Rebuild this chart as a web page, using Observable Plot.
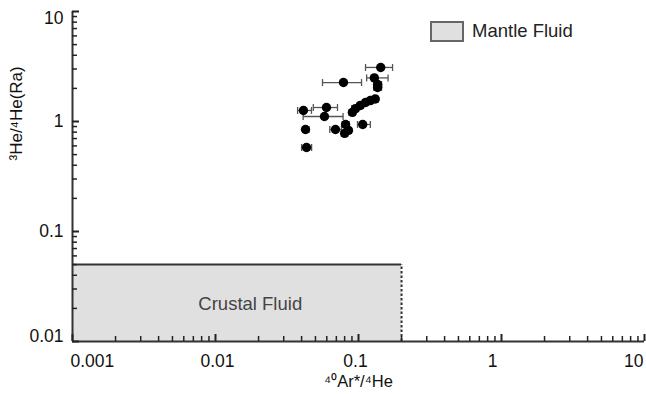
<!DOCTYPE html>
<html>
<head>
<meta charset="utf-8">
<script src="https://cdn.jsdelivr.net/npm/d3@7"></script>
<script src="https://cdn.jsdelivr.net/npm/@observablehq/plot@0.6"></script>
<style>
  body { margin: 0; background: #fff; font-family: "Liberation Sans", Arial, Helvetica, sans-serif; }
  #wrap { position: relative; width: 646px; height: 394px; }
  #legend { position: absolute; left: 430px; top: 20px; display: flex; align-items: center; font-size: 18.5px; color: #222; z-index: 2; }
  #legend .sw { width: 30px; height: 17px; background: #e0e0e0; border: 2px solid #666; margin-right: 8px; }
</style>
</head>
<body>
<div id="wrap"><div id="legend"><div class="sw"></div><span>Mantle Fluid</span></div></div>
<script>
// Samples: 40Ar*/4He (x), 3He/4He in Ra (y), with x error range
const ratioAr = [0.143, 0.0785, 0.129, 0.136, 0.136, 0.0906, 0.0953, 0.103, 0.112, 0.121, 0.131, 0.0412, 0.0597, 0.0578, 0.0426, 0.069, 0.0812, 0.0851, 0.080, 0.107, 0.0433];
const ratioHe = [3.10, 2.26, 2.49, 2.17, 2.04, 1.21, 1.31, 1.40, 1.49, 1.55, 1.60, 1.26, 1.34, 1.11, 0.846, 0.846, 0.94, 0.83, 0.78, 0.94, 0.58];
const errLo = [0.112, 0.056, 0.114, 0.128, 0.128, 0.086, 0.090, 0.098, 0.107, 0.116, 0.125, 0.0375, 0.0483, 0.041, 0.041, 0.063, 0.077, 0.081, 0.076, 0.0984, 0.040];
const errHi = [0.173, 0.105, 0.161, 0.145, 0.145, 0.095, 0.100, 0.108, 0.117, 0.126, 0.137, 0.0469, 0.0713, 0.078, 0.045, 0.076, 0.086, 0.089, 0.084, 0.121, 0.047];

// Crustal fluid field
const crustal = [{x1: 0.001, x2: 0.2, y1: 0.01, y2: 0.05, label: "Crustal Fluid", lx: 0.0175, ly: 0.022}];

// Tick labels
const xMajor = [0.001, 0.01, 0.1, 1, 10];
const yMajor = [0.01, 0.1, 1, 10];
const xLabels = ["0.001", "0.01", "0.1", "1", "10"];
const yLabels = ["0.01", "0.1", "1", "10"];

const samples = ratioAr.map((x, i) => ({x, y: ratioHe[i], lo: errLo[i], hi: errHi[i]}));
const minor = (majors) => majors.slice(0, -1).flatMap(m => [2,3,4,5,6,7,8,9].map(k => +(m * k).toPrecision(3)));
const xMinor = minor(xMajor), yMinor = minor(yMajor);
const xMin = xMajor[0], yMin = yMajor[0];

const capSymbol = {draw(ctx, size) { const r = Math.sqrt(size / Math.PI); ctx.moveTo(0, -r); ctx.lineTo(0, r); }};
const ink = "#222";
const fontCss = "Liberation Sans, Arial, Helvetica, sans-serif";

// label placement styling (per label)
const xLabelStyle = [
  {dx: -2, textAnchor: "start"}, {dx: 2, textAnchor: "middle"}, {dx: -3, textAnchor: "middle"},
  {dx: -9, textAnchor: "middle"}, {dx: -1, textAnchor: "end"}
];
const yLabelStyle = [{lineAnchor: "bottom"}, {lineAnchor: "middle"}, {lineAnchor: "middle"}, {lineAnchor: "top"}];

const chart = Plot.plot({
  width: 646, height: 394,
  marginLeft: 72, marginRight: 2, marginTop: 11, marginBottom: 53,
  style: {fontFamily: fontCss, background: "transparent", overflow: "visible"},
  x: {type: "log", domain: [0.001, 10], axis: null},
  y: {type: "log", domain: [0.01, 10], axis: null},
  marks: [
    Plot.rect(crustal, {x1: "x1", x2: "x2", y1: "y1", y2: "y2", fill: "#e0e0e0"}),
    Plot.ruleY(crustal, {y: "y2", x1: "x1", x2: "x2", stroke: "#333", strokeWidth: 2}),
    Plot.ruleX(crustal, {x: "x2", y1: "y1", y2: "y2", stroke: "#333", strokeWidth: 2, strokeDasharray: "2.5,2"}),
    Plot.text(crustal, {x: "lx", y: "ly", text: "label", fontSize: 18.5, fill: "#444"}),
    // spines
    Plot.ruleX([xMin], {stroke: "#333", strokeWidth: 2}),
    Plot.ruleY([yMin], {stroke: "#333", strokeWidth: 2}),
    // axis ticks (inward), drawn from the axis marks of Plot
    Plot.axisX(xMinor, {anchor: "bottom", tickSize: 5, dy: -5, tickFormat: () => "", stroke: ink, strokeWidth: 1.5, strokeOpacity: 1}),
    Plot.axisX(xMajor, {anchor: "bottom", tickSize: 7, dy: -7, tickFormat: () => "", stroke: ink, strokeWidth: 2, strokeOpacity: 1}),
    Plot.axisY(yMinor, {anchor: "left", tickSize: 5, dx: 5, tickFormat: () => "", stroke: ink, strokeWidth: 1.5, strokeOpacity: 1}),
    Plot.axisY(yMajor, {anchor: "left", tickSize: 7, dx: 7, tickFormat: () => "", stroke: ink, strokeWidth: 2, strokeOpacity: 1}),
    // tick labels
    ...xMajor.map((v, i) => Plot.text([v], {x: d => d, text: [xLabels[i]], frameAnchor: "bottom", dy: 25, fontSize: 17.5, fill: "#111", ...xLabelStyle[i]})),
    ...yMajor.map((v, i) => Plot.text([v], {y: d => d, text: [yLabels[i]], frameAnchor: "left", dx: -9, textAnchor: "end", fontSize: 17.5, fill: "#111", ...yLabelStyle[i]})),
    // axis titles
    Plot.text(["⁴⁰Ar*/⁴He"], {frameAnchor: "bottom", dy: 45, dx: 0, fontSize: 16.5, fill: "#111"}),
    Plot.text(["³He/⁴He(Ra)"], {frameAnchor: "left", dx: -56, dy: -16, rotate: -90, fontSize: 17, fill: "#111"}),
    // error bars
    Plot.link(samples, {x1: "lo", x2: "hi", y1: "y", y2: "y", stroke: "#555", strokeWidth: 1.3}),
    Plot.dot(samples, {x: "lo", y: "y", r: 3.5, symbol: capSymbol, stroke: "#555", strokeWidth: 1.3}),
    Plot.dot(samples, {x: "hi", y: "y", r: 3.5, symbol: capSymbol, stroke: "#555", strokeWidth: 1.3}),
    // points
    Plot.dot(samples, {x: "x", y: "y", r: 4.7, fill: "#000"})
  ]
});
chart.style.position = "absolute";
chart.style.left = "0"; chart.style.top = "0";
document.getElementById("wrap").prepend(chart);
</script>
</body>
</html>
